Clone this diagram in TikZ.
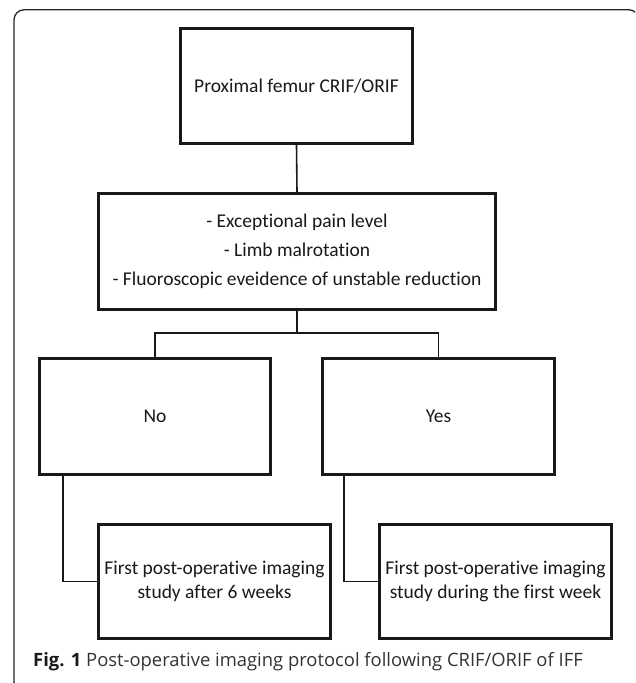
\documentclass[tikz,border=0pt]{standalone}
\usepackage{fontspec}
\setmainfont[Ligatures=NoCommon]{Carlito}
\newfontfamily\capfont{Open Sans}
\begin{document}
\begin{tikzpicture}[x=1pt,y=-1pt,
  box/.style={draw=black!90, line width=3pt, rectangle, align=center, inner sep=0pt,
    font=\fontsize{19.5}{24}\selectfont, text=black!90},
  conn/.style={draw=black!90, line width=1.6pt}]
\useasboundingbox (0,0) rectangle (635,683);
\begin{scope}
\clip (0,0) rectangle (635,683);
\draw[line width=1.3pt, black!85, rounded corners=10pt] (14,9.8) rectangle (639,692);
\end{scope}
\node[box, minimum width=232pt, minimum height=115pt] (top) at (296.5,86) {Proximal femur CRIF/ORIF};
\node[box, minimum width=397pt, minimum height=116pt, font=\fontsize{19.5}{29}\selectfont] (crit) at (297,251.5)
  {- Exceptional pain level\\- Limb malrotation\\- Fluoroscopic eveidence of unstable reduction};
\node[box, minimum width=231pt, minimum height=116pt] (no) at (155,416.5) {No};
\node[box, minimum width=232pt, minimum height=116pt] (yes) at (438.5,416.5) {Yes};
\node[box, minimum width=232pt, minimum height=114pt] (bl) at (214.5,581.5) {First post-operative imaging\\study after 6 weeks};
\node[box, minimum width=232pt, minimum height=114pt] (br) at (495.5,581.5) {First post-operative imaging\\study during the first week};
\coordinate (split) at (297,333);
\draw[conn] (top.south) -- (crit.north);
\draw[conn] (crit.south) -- (split);
\draw[conn] (split) -| (no.north);
\draw[conn] (split) -| (yes.north);
\draw[conn] (no.south -| 63,0) |- (bl.west);
\draw[conn] (yes.south -| 344,0) |- (br.west);
\node[anchor=west, inner sep=0pt, font=\capfont\fontsize{18.4}{20}\selectfont, text=black!80] (cap) at (33,662)
  {\textbf{\color{black!90}Fig. 1} Post-operative imaging protocol following CRIF/ORIF of IFF};
\end{tikzpicture}
\end{document}
